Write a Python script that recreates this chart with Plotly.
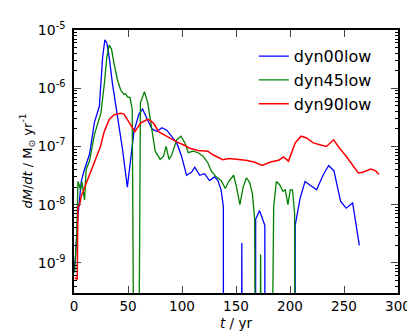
import plotly.graph_objects as go

# dyn00low
t_blue = [0, 1.2, 3.7, 6.7, 8.9, 11.2, 14.4, 18.9, 23.5, 26.5, 28.6, 30.4, 32.6, 35.6, 40.2, 44.8, 49.4,
          55.5, 60.1, 63.5, 67.6, 72.2, 76.8, 81.4, 85.9, 90.5, 95.1, 99.6, 104.2, 108.8, 111.8, 116.4,
          120.9, 125.5, 130.1, 133.2, 136.2, 138.3, 138.4,
          154.9, 155.4, 155.9,
          168.1, 168.2, 171.8, 176.7, 176.8,
          204.7, 204.8, 209.4, 213.9, 220.0, 224.6, 230.6, 235.8, 240.7, 246.8, 252.0, 258.0, 264.2]
y_blue = [7.4e-10, 1.2e-9, 6.5e-9, 2.5e-8, 3.6e-8, 5.0e-8, 7.4e-8, 2.6e-7, 4.9e-7, 3.4e-6, 6.8e-6, 6.0e-6,
          3.4e-6, 1.2e-6, 3.4e-7, 9.3e-8, 2.0e-8, 1.8e-7, 3.6e-7, 4.4e-7, 3.0e-7, 2.0e-7, 1.8e-7, 2.1e-7,
          1.9e-7, 1.5e-7, 1.15e-7, 6.8e-8, 3.2e-8, 3.6e-8, 4.4e-8, 3.2e-8, 3.4e-8, 2.6e-8, 3.0e-8, 2.6e-8,
          1.8e-8, 9.3e-9, 1e-13,
          1e-13, 2.2e-9, 1e-13,
          1e-13, 5.6e-9, 7.9e-9, 4.4e-9, 1e-13,
          1e-13, 4.4e-9, 1.3e-8, 2.5e-8, 2.1e-8, 1.8e-8, 3.2e-8, 4.7e-8, 3.8e-8, 1.15e-8, 8.7e-9, 1.07e-8,
          2.0e-9]

# dyn45low
t_green = [0.6, 2.5, 3.7, 6.1, 7.3, 9.8, 11.2, 14.4, 18.9, 25.0, 28.1, 30.4, 32.6, 34.7, 37.2, 40.2, 43.2,
           46.3, 47.8, 49.4, 51.8, 53.9, 56.0, 59.4, 61.5, 65.2, 68.3, 72.2, 75.2, 79.8, 82.9, 85.3, 88.0,
           90.5, 95.1, 99.0, 102.7, 105.8, 110.3, 114.9, 119.5, 124.0, 127.1, 131.6, 136.2, 140.1, 143.2,
           147.8, 150.5, 153.6, 156.6, 159.7, 162.7, 165.2, 167.3, 168.2,
           171.9, 172.8, 173.7,
           182.3, 184.9, 187.4, 190.4, 193.5, 195.6, 198.1, 200.2, 202.3, 204.3, 204.8]
y_green = [6.8e-10, 3e-9, 2.5e-8, 1.8e-8, 2.5e-8, 1.2e-8, 4.0e-8, 5.6e-8, 1.6e-7, 3.8e-7, 1.2e-6, 3.4e-6,
           5.5e-6, 4.7e-6, 2.6e-6, 1.4e-6, 9.3e-7, 7.8e-7, 8.1e-7, 7.1e-7, 6.9e-7, 4.4e-7, 1e-13, 1e-13,
           5.6e-7, 8.7e-7, 5.6e-7, 1.8e-7, 8.3e-8, 6.0e-8, 6.8e-8, 1.0e-7, 6.0e-8, 7.2e-8, 1.3e-7, 1.5e-7,
           1.15e-7, 7.8e-8, 8.3e-8, 7.8e-8, 6.8e-8, 5.2e-8, 3.8e-8, 3.0e-8, 2.6e-8, 1.9e-8, 2.5e-8, 3.2e-8,
           2.0e-8, 1.0e-8, 2.0e-8, 2.9e-8, 2.4e-8, 1.55e-8, 5.6e-9, 1e-13,
           1e-13, 1.4e-9, 1e-13,
           1e-13, 9.3e-9, 2.5e-8, 2.2e-8, 1.7e-8, 1.8e-8, 1.0e-8, 1.8e-8, 1.8e-8, 7e-9, 1e-13]

# dyn90low
t_red = [0.5, 3.0, 3.6, 5.2, 6.7, 11.2, 15.8, 20.4, 24.5, 28.0, 32.6, 37.2, 43.2, 46.3, 50.9, 56.4, 61.5,
         67.6, 69.2, 73.8, 78.3, 84.4, 88.9, 95.1, 101.2, 107.2, 114.9, 124.0, 128.6, 133.2, 137.8, 143.8,
         149.9, 159.0, 166.6, 174.3, 181.9, 189.5, 194.1, 198.6, 204.8, 210.2, 215.4, 221.5, 227.6, 233.7,
         240.4, 245.9, 252.0, 258.0, 263.3, 267.2, 274.9, 279.4, 282.4]
y_red = [5.6e-10, 5.2e-10, 9e-9, 1.0e-8, 1.4e-8, 2.3e-8, 3.6e-8, 6.0e-8, 1.0e-7, 1.8e-7, 2.9e-7, 3.5e-7,
         3.7e-7, 3.6e-7, 2.6e-7, 1.8e-7, 2.5e-7, 2.9e-7, 2.9e-7, 2.5e-7, 1.8e-7, 1.55e-7, 1.4e-7, 1.2e-7,
         1.07e-7, 9.3e-8, 8.5e-8, 8.3e-8, 7.2e-8, 6.6e-8, 5.9e-8, 6.2e-8, 6.0e-8, 5.8e-8, 5.4e-8, 4.7e-8,
         5.4e-8, 5.8e-8, 6.6e-8, 5.6e-8, 1.15e-7, 1.5e-7, 1.4e-7, 1.15e-7, 1.07e-7, 1.0e-7, 1.3e-7, 9.3e-8,
         6.8e-8, 4.9e-8, 3.5e-8, 3.6e-8, 4.1e-8, 3.8e-8, 3.3e-8]

x_ticks = [0, 50, 100, 150, 200, 250, 300]
y_ticks = [1e-9, 1e-8, 1e-7, 1e-6, 1e-5]
y_ticktext = ['10<sup>-9</sup>', '10<sup>-8</sup>', '10<sup>-7</sup>', '10<sup>-6</sup>', '10<sup>-5</sup>']

fig = go.Figure()
for name, t, y, c, w in [('dyn00low', t_blue, y_blue, '#0000ff', 1.3),
                         ('dyn45low', t_green, y_green, '#008000', 1.3),
                         ('dyn90low', t_red, y_red, '#ff0000', 1.5)]:
    fig.add_trace(go.Scatter(x=t, y=y, mode='lines', name=name,
                             line=dict(color=c, width=w)))

fig.update_layout(width=415, height=333,
                  margin=dict(l=66, r=21, t=15, b=47),
                  plot_bgcolor='white', paper_bgcolor='white',
                  font=dict(family='DejaVu Sans', color='black', size=13),
                  showlegend=True,
                  legend=dict(x=0.555, y=0.965, xanchor='left', yanchor='top',
                              bgcolor='rgba(0,0,0,0)', borderwidth=0,
                              font=dict(size=16), tracegroupgap=0, itemwidth=30),
                  hovermode=False)

fig.update_xaxes(range=[0, 300], tickvals=x_ticks, ticks='inside', ticklen=7, tickwidth=1,
                 showline=True, linecolor='black', linewidth=1.5, mirror='allticks',
                 showgrid=False, zeroline=False, tickfont=dict(size=13.5),
                 title=dict(text='<i>t</i> / yr', font=dict(size=13.5), standoff=6))

fig.update_yaxes(type='log', range=[-9.517, -5], tickvals=y_ticks, ticktext=y_ticktext,
                 ticks='inside', ticklen=7, tickwidth=1,
                 minor=dict(ticks='inside', ticklen=3.5, dtick='D1', showgrid=False, tickcolor='black'),
                 showline=True, linecolor='black', linewidth=1.5, mirror='allticks',
                 showgrid=False, zeroline=False, tickfont=dict(size=14), ticklabelstandoff=4)

# y-axis label placed by hand, as in the original figure
fig.add_annotation(text='<i>dM</i>/<i>dt</i> / M<sub>⊙</sub> yr<sup>-1</sup>',
                   xref='paper', yref='paper', x=0, y=0.5, xshift=-58,
                   textangle=-90, showarrow=False, font=dict(size=13))

fig.write_html('out.html')
